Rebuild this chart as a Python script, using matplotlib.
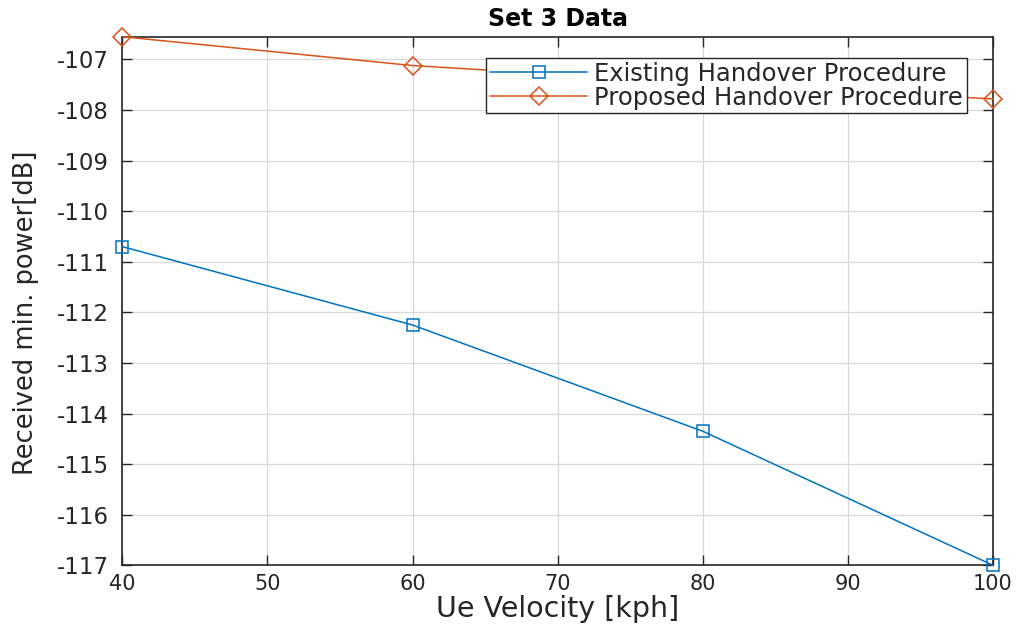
import matplotlib
matplotlib.use("Agg")
import matplotlib.pyplot as plt

plt.rcParams["axes.unicode_minus"] = False

velocity = [40, 60, 80, 100]
existing_power = [-110.70, -112.25, -114.35, -117.00]
proposed_power = [-106.55, -107.12, -107.47, -107.78]
x_ticks = [40, 50, 60, 70, 80, 90, 100]
y_ticks = [-117, -116, -115, -114, -113, -112, -111, -110, -109, -108, -107]

fig = plt.figure(figsize=(10.19, 6.33), dpi=100)
ax = fig.add_axes([0.12, 0.107, 0.8545, 0.835])

ax.plot(velocity, existing_power, color="#0072BD", lw=1.1, marker="s",
        markersize=9, markerfacecolor="none", markeredgewidth=1.1,
        label="Existing Handover Procedure", clip_on=False, zorder=3)
ax.plot(velocity, proposed_power, color="#D95319", lw=1.1, marker="D",
        markersize=9, markerfacecolor="none", markeredgewidth=1.1,
        label="Proposed Handover Procedure", clip_on=False, zorder=3)

ax.set_xlim(40, 100)
ax.set_ylim(min(existing_power), max(proposed_power))
ax.set_xticks(x_ticks)
ax.set_yticks(y_ticks)
ax.grid(True, color="#d8d8d8", lw=0.9)
ax.set_axisbelow(True)
ax.tick_params(direction="in", top=True, right=True, length=7, width=1,
               colors="#262626")
ax.tick_params(axis="y", labelsize=16.5, pad=9.5)
ax.tick_params(axis="x", labelsize=15, pad=6)
for s in ax.spines.values():
    s.set_color("#262626")
    s.set_linewidth(1.2)

ax.set_title("Set 3 Data", fontsize=17, fontweight="bold", pad=8)
ax.set_xlabel("Ue Velocity [kph]", fontsize=20.5, color="#262626", labelpad=1)
ax.set_ylabel("Received min. power[dB]", fontsize=18.5, color="#262626")
ax.yaxis.set_label_coords(-0.096, 0.477)

leg = ax.legend(loc="upper right", bbox_to_anchor=(0.970, 0.960),
                fontsize=17.5, frameon=True, fancybox=False, framealpha=1,
                borderpad=0.15, handlelength=4.0, handletextpad=0.3,
                labelspacing=0.0, borderaxespad=0)
leg.get_frame().set_edgecolor("#262626")
leg.get_frame().set_linewidth(1.0)
for t in leg.get_texts():
    t.set_color("#262626")

fig.savefig("out.png", dpi=100)
